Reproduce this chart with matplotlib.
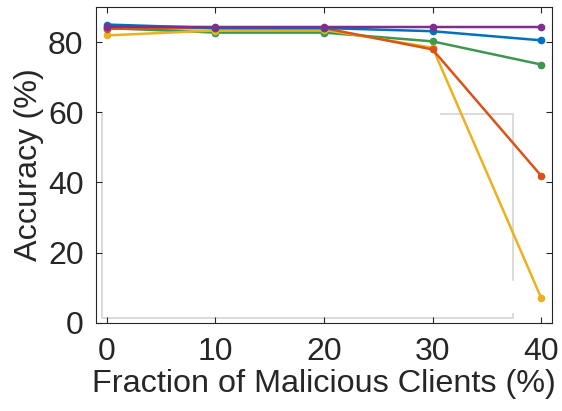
import matplotlib
matplotlib.use("Agg")
import matplotlib.pyplot as plt
from matplotlib import rcParams

rcParams["font.family"] = ["Liberation Sans", "DejaVu Sans"]

# fraction of malicious clients (%)
x_frac = [0, 10, 20, 30, 40]

acc_green = [84.0, 82.7, 82.7, 80.2, 73.6]
acc_yellow = [81.9, 83.3, 83.5, 78.4, 7.1]
acc_orange = [83.8, 84.0, 84.0, 77.9, 41.9]
acc_blue = [85.0, 84.0, 84.0, 83.1, 80.5]
acc_purple = [84.4, 84.3, 84.3, 84.3, 84.3]

# leftover empty legend frame (light grey outline) in data coords
frame_x = [30.8, 37.4, 37.4]
frame_y = [59.6, 59.6, 12.2]
frame2_x = [-0.43, -0.43, 37.4, 37.4]
frame2_y = [59.6, 1.3, 1.3, 2.5]

GREEN = "#3E9651"; YELLOW = "#EDB120"; ORANGE = "#D95319"
BLUE = "#0072BD"; PURPLE = "#7E2F8E"

fig = plt.figure(figsize=(5.62, 4.11), dpi=100)
ax = fig.add_axes([96/562, 1 - 322.7/411, (552-96)/562, (322.7-7)/411])

ax.plot(frame_x, frame_y, color="#d4d4d4", lw=1.2, zorder=1)
ax.plot(frame2_x, frame2_y, color="#d4d4d4", lw=1.2, zorder=1)

series = [(acc_green, GREEN), (acc_yellow, YELLOW), (acc_orange, ORANGE),
          (acc_blue, BLUE), (acc_purple, PURPLE)]
for vals, c in series:
    ax.plot(x_frac, vals, "-o", color=c, lw=1.8, ms=4.5, zorder=3)

ax.set_xlim(-1, 41)
ax.set_ylim(0, 90)
ax.set_xticks([0, 10, 20, 30, 40])
ax.set_yticks([0, 20, 40, 60, 80])
ax.tick_params(labelsize=23, direction="in", length=4, width=0.8,
               top=True, right=True, colors="#262626")
ax.tick_params(axis="x", pad=10)
ax.tick_params(axis="y", pad=9)
for s in ax.spines.values():
    s.set_color("#262626"); s.set_linewidth(0.8)
ax.set_xlabel("Fraction of Malicious Clients (%)", fontsize=23.3, color="#262626", labelpad=2)
ax.set_ylabel("Accuracy (%)", fontsize=23.3, color="#262626", labelpad=3)

fig.savefig("out.png", dpi=100, facecolor="white")
